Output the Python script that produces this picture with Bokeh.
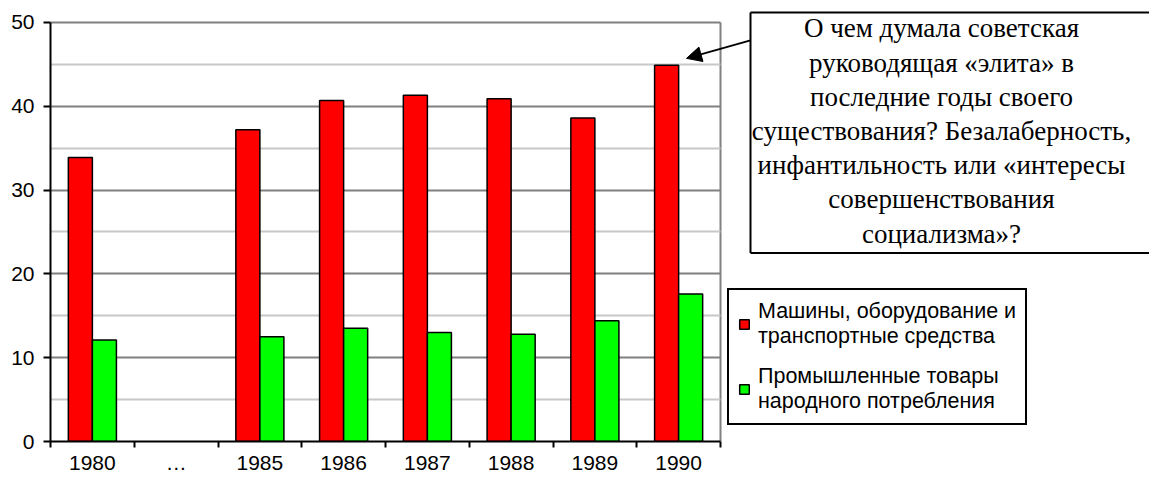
import numpy as np
from bokeh.plotting import figure
from bokeh.models import (Range1d, FixedTicker, Legend, LegendItem, Label, Arrow,
                          NormalHead, ColumnDataSource)
from bokeh.embed import file_html
from bokeh.resources import INLINE

# ---- data ----
years = ["1980", "\u2026", "1985", "1986", "1987", "1988", "1989", "1990"]
machinery = [33.9, np.nan, 37.2, 40.7, 41.3, 40.9, 38.6, 44.9]
consumer = [12.1, np.nan, 12.5, 13.5, 13.0, 12.8, 14.4, 17.6]
series_names = ["Машины, оборудование и\nтранспортные средства",
                "Промышленные товары\nнародного потребления"]
y_ticks = [0, 10, 20, 30, 40, 50]
y_minor = [5, 15, 25, 35, 45]
note_text = ("О чем думала советская\nруководящая «элита» в\nпоследние годы своего\n"
             "существования? Безалаберность,\nинфантильность или «интересы\n"
             "совершенствования\nсоциализма»?")

n = len(years)
y_max = y_ticks[-1]
centers = np.arange(n) + 0.5
bar_w = 0.287
src = ColumnDataSource(dict(xr=centers - bar_w / 2, xg=centers + bar_w / 2,
                            m=machinery, c=consumer))

# layout (pixels)
W, H = 1149, 476
left, bottom_border = 50, 34
plot_top = 22                       # where the value 50 sits
frame_w = W - left
frame_h = H - bottom_border
px_per_cat = 670 / n
px_per_val = (frame_h - plot_top) / y_max


def dx(px):   # canvas pixel -> x data
    return (px - left) / px_per_cat


def dy(py):   # canvas pixel -> y data
    return (frame_h - py) / px_per_val


p = figure(width=W, height=H,
           x_range=Range1d(0, frame_w / px_per_cat),
           y_range=Range1d(0, frame_h / px_per_val),
           output_backend="svg", toolbar_location=None,
           min_border_left=left, min_border_right=0, min_border_top=0,
           min_border_bottom=bottom_border)
p.background_fill_color = "white"
p.border_fill_color = "white"
p.outline_line_color = None

r1 = p.vbar(x="xr", top="m", width=bar_w, source=src, fill_color="#FF0000",
            line_color="black", line_width=1.5)
r2 = p.vbar(x="xg", top="c", width=bar_w, source=src, fill_color="#00FF00",
            line_color="black", line_width=1.5)

TICK_FONT = "21px"

# x axis: labels at category centres, tick marks at category boundaries
xax = p.xaxis[0]
xax.bounds = (0, n)
xax.ticker = FixedTicker(ticks=list(centers), minor_ticks=list(range(n + 1)))
xax.major_label_overrides = {float(c): y for c, y in zip(centers, years)}
xax.major_tick_out = 0
xax.major_tick_in = 0
xax.minor_tick_out = 6
xax.minor_tick_in = 0
xax.minor_tick_line_color = "black"
xax.minor_tick_line_width = 2
xax.axis_line_color = "black"
xax.axis_line_width = 2
xax.major_label_text_font = "Liberation Sans"
xax.major_label_text_font_size = TICK_FONT
xax.major_label_text_color = "black"
xax.major_label_standoff = 3

yax = p.yaxis[0]
yax.bounds = (0, y_max)
yax.ticker = FixedTicker(ticks=y_ticks, minor_ticks=y_minor)
yax.major_tick_out = 7
yax.major_tick_in = 0
yax.minor_tick_out = 0
yax.minor_tick_in = 0
yax.major_tick_line_color = "black"
yax.major_tick_line_width = 2
yax.axis_line_color = "black"
yax.axis_line_width = 2
yax.major_label_text_font = "Liberation Sans"
yax.major_label_text_font_size = TICK_FONT
yax.major_label_text_color = "black"
yax.major_label_standoff = 9

p.ygrid.grid_line_color = "#808080"
p.ygrid.grid_line_width = 2
p.ygrid.minor_grid_line_color = "#C8C8C8"
p.ygrid.minor_grid_line_width = 2
p.ygrid.cross_bounds = (0, n)

# right border of the plot area
p.xgrid.ticker = FixedTicker(ticks=[n])
p.xgrid.grid_line_color = "#808080"
p.xgrid.grid_line_width = 2
p.xgrid.cross_bounds = (0, y_max)

legend = Legend(items=[LegendItem(label=series_names[0], renderers=[r1]),
                       LegendItem(label=series_names[1], renderers=[r2])],
                location=(677, frame_h - 426))
legend.label_text_font = "Liberation Sans"
legend.label_text_font_size = "21.5px"
legend.label_text_line_height = 1.26
legend.label_text_color = "black"
legend.glyph_width = 12
legend.glyph_height = 12
legend.label_standoff = 8
legend.padding = 9
legend.spacing = 15
legend.margin = 0
legend.border_line_color = "black"
legend.border_line_alpha = 1
legend.border_line_width = 2
legend.background_fill_color = "white"
legend.background_fill_alpha = 1
p.add_layout(legend)

# callout box: open on the right, it runs off the picture as in the original
box_l, box_t, box_b, box_r = 750, 12, 253, 1400
for (x0, y0, x1, y1) in [(box_l, box_t, box_r, box_t), (box_l, box_t, box_l, box_b),
                         (box_l, box_b, box_r, box_b)]:
    p.add_layout(Arrow(start=None, end=None, x_start=dx(x0), y_start=dy(y0),
                       x_end=dx(x1), y_end=dy(y1), line_color="black", line_width=2))

note = Label(x=dx(941), y=dy(13), text=note_text,
             text_align="center", text_baseline="top",
             text_font="Liberation Serif", text_font_size="27px", text_line_height=1.14,
             text_color="black")
p.add_layout(note)

arrow = Arrow(end=NormalHead(size=15, fill_color="black", line_color="black"),
              x_start=dx(750), y_start=dy(40), x_end=dx(686), y_end=dy(58),
              line_color="black", line_width=2)
p.add_layout(arrow)

open("out.html", "w").write(file_html(p, INLINE))
